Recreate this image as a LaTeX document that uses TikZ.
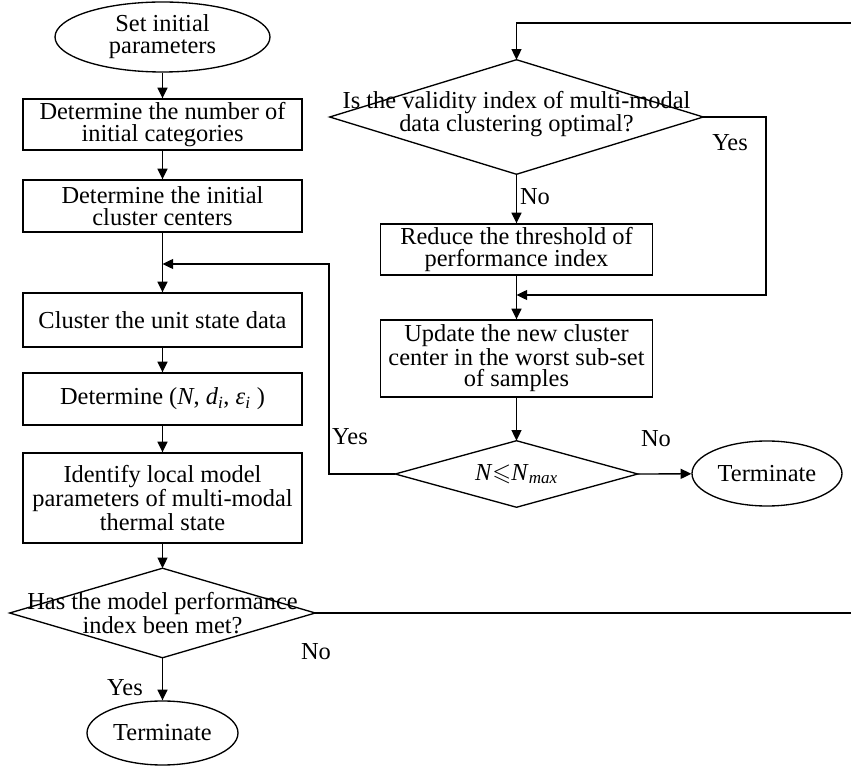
\documentclass[tikz,border=0pt]{standalone}
\usepackage{fontspec}
\setmainfont{Liberation Serif}
\usepackage{amssymb}
\usetikzlibrary{arrows.meta,shapes.geometric}
\begin{document}
\begin{tikzpicture}[x=0.75pt,y=-0.75pt,
  every node/.style={font=\fontsize{18.3}{16.3}\selectfont, align=center},
  box/.style={draw, rectangle, line width=1pt, minimum width=209.25pt, inner sep=0pt},
  rbox/.style={box, minimum width=204pt},
  term/.style={draw, ellipse, line width=1pt, inner sep=0pt},
  diashape/.style={rectangle, inner sep=0pt},
  conn/.style={line width=1pt},
  arr/.style={conn, -{Triangle[length=8pt,width=7.5pt]}},
  lbl/.style={inner sep=0pt}]
\useasboundingbox (0,0) rectangle (851,766);
\clip (0,0) rectangle (851,766);

% left column
\node[term, minimum width=161.25pt, minimum height=52.5pt] (start) at (162.5,37) {Set initial\\parameters};
\node[box, minimum height=38.25pt] (b1) at (162.5,124.5) {Determine the number of\\initial categories};
\node[box, minimum height=39pt] (b2) at (162.5,206) {Determine the initial\\cluster centers};
\coordinate (j1) at (162.5,264);
\node[box, minimum height=40.5pt] (b3) at (162.5,320) {Cluster the unit state data};
\node[box, minimum height=39pt] (b4) at (162.5,399) {Determine (\textit{N}, \textit{d}\textsubscript{\textit{i}}, \textit{ε}\textsubscript{\textit{i}} )};
\node[box, minimum height=67.5pt] (b5) at (162.5,498) {Identify local model\\parameters of multi-modal\\thermal state};
\node[diashape, minimum width=228.75pt, minimum height=66.75pt] (d1) at (162.5,613) {};
\node[lbl] at (d1) {Has the model performance\\index been met?};
\node[term, minimum width=113.25pt, minimum height=48pt] (t1) at (162.5,733) {Terminate};

% right column
\node[diashape, minimum width=279.75pt, minimum height=85.5pt] (d2) at (516.5,117) {};
\node[lbl] at (516.5,114) {Is the validity index of multi-modal\\data clustering optimal?};
\node[rbox, minimum height=38.25pt] (r1) at (516.5,249.5) {Reduce the threshold of\\performance index};
\coordinate (j2) at (516.5,295);
\node[rbox, minimum height=57.75pt] (r2) at (516.5,358.5) {Update the new cluster\\center in the worst sub-set\\of samples};
\node[diashape, minimum width=181.5pt, minimum height=49.5pt] (d3) at (516.5,474) {};
\node[lbl] at (d3) {\textit{N}$\leqslant$\textit{N}\textsubscript{\textit{max}}};
\node[term, minimum width=112.5pt, minimum height=48.75pt] (t2) at (767,473.5) {Terminate};

% diamonds
\foreach \d in {d1,d2,d3}
  \draw[conn] (\d.north) -- (\d.east) -- (\d.south) -- (\d.west) -- cycle;

% coordinates for loops
\coordinate (e1) at (862,613);
\coordinate (e2) at (862,23);
\coordinate (y2) at (766,117);
\coordinate (y3) at (329,474);

% connectors
\draw[arr] (start) -- (b1);
\draw[arr] (b1) -- (b2);
\draw[arr] (b2) -- (b3);
\draw[arr] (b3) -- (b4);
\draw[arr] (b4) -- (b5);
\draw[arr] (b5) -- (d1.north);
\draw[arr] (d1.south) -- (t1);
\draw[arr] (d1.east) -- (e1) -- (e2) -| (d2.north);
\draw[arr] (d2.south) -- (r1);
\draw[arr] (r1) -- (r2);
\draw[arr] (d2.east) -- (y2) |- (j2);
\draw[arr] (r2) -- (d3.north);
\draw[arr] (d3.east) -- (t2);
\draw[arr] (d3.west) -- (y3) |- (j1);

% labels
\node[lbl] at (125,688) {Yes};
\node[lbl] at (316,652) {No};
\node[lbl] at (535,197) {No};
\node[lbl] at (730,143) {Yes};
\node[lbl] at (350,437) {Yes};
\node[lbl] at (656,439) {No};
\end{tikzpicture}
\end{document}
